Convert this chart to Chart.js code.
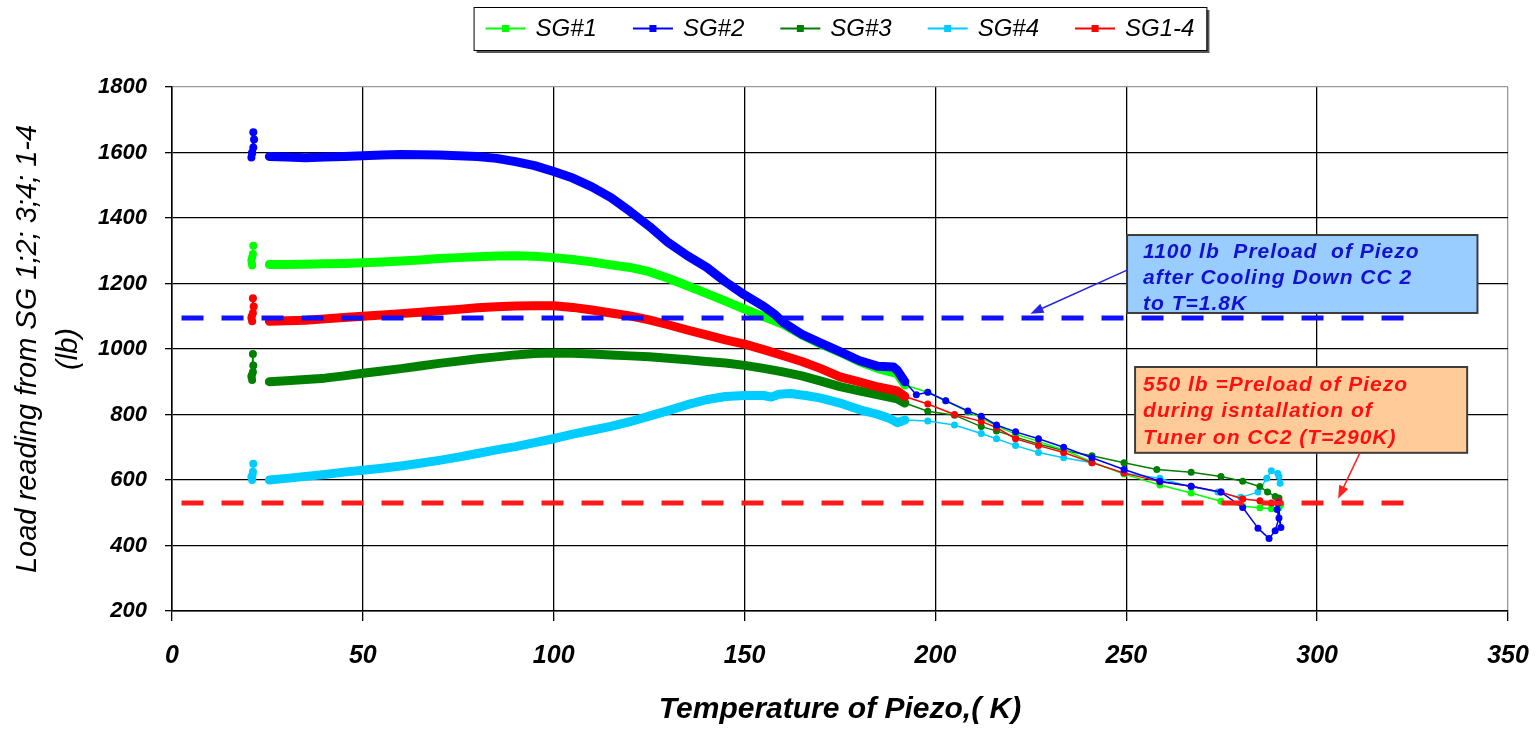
<!DOCTYPE html>
<html>
<head>
<meta charset="utf-8">
<title>Load reading vs Temperature of Piezo</title>
<script src="https://cdn.jsdelivr.net/npm/chart.js@4.4.1/dist/chart.umd.min.js"></script>
<style>
  html, body { margin: 0; padding: 0; background: #fff; }
  #wrap { width: 1540px; height: 729px; }
</style>
</head>
<body>
<div id="wrap"><canvas id="canvas" width="1540" height="729"></canvas></div>
<script>
// temperatures (K) and loads (lb), one pair of arrays per gauge
const sg1Temp = [21, 20.8, 21.2, 21.3, 21, 20.9, 25.5, 30, 35, 40, 45, 50, 55, 60, 65, 70, 75, 80, 85, 90, 95, 100, 105, 110, 115, 120, 125, 130, 135, 140, 145, 150, 155, 160, 165, 170, 175, 180, 185, 190, 192, 198, 202.7, 208.5, 212, 216, 221, 227, 233.6, 241, 249.4, 258.8, 267, 274.8, 280.5, 285, 288, 290, 290.5];
const sg1Load = [1255, 1270, 1290, 1315, 1280, 1262, 1258, 1258, 1259, 1260, 1261, 1263, 1266, 1269, 1272, 1276, 1279, 1282, 1284, 1285, 1283, 1279, 1273, 1266, 1257, 1249, 1236, 1216, 1193, 1170, 1146, 1122, 1099, 1076, 1043, 1015, 990, 962, 940, 925, 890, 868, 842, 808, 790, 765, 740, 718, 692, 655, 618, 585, 560, 535, 520, 515, 512, 515, 525];

const sg2Temp = [21, 20.8, 21.3, 21.5, 21.3, 21, 25.5, 30, 35, 40, 45, 50, 55, 60, 65, 70, 75, 80, 85, 90, 95, 100, 105, 110, 115, 120, 125, 130, 135, 140, 145, 150, 155, 158, 160, 165, 170, 175, 180, 185, 189, 190, 192, 195, 198, 202.7, 208.5, 212, 216, 221, 227, 233.6, 241, 249.4, 258.8, 267, 274.8, 280.5, 284.5, 287.4, 289, 290, 289.5, 290.5, 289.8];
const sg2Load = [1600, 1585, 1615, 1640, 1662, 1598, 1588, 1586, 1584, 1586, 1588, 1590, 1592, 1594, 1593, 1592, 1590, 1588, 1582, 1572, 1560, 1542, 1522, 1495, 1462, 1420, 1375, 1325, 1285, 1250, 1205, 1165, 1130, 1105, 1082, 1045, 1018, 992, 965, 947, 945, 935, 900, 860, 868, 842, 811, 795, 768, 747, 726, 700, 668, 632, 596, 581, 563, 516, 453, 421, 445, 484, 510, 455, 530];

const sg3Temp = [21, 20.8, 21.2, 21.3, 21.2, 20.9, 25.5, 30, 35, 40, 45, 50, 55, 60, 65, 70, 75, 80, 85, 90, 95, 100, 105, 110, 115, 120, 125, 130, 135, 140, 145, 150, 155, 160, 165, 170, 175, 180, 185, 190, 192, 198, 205, 212, 216, 221, 227, 233.6, 241, 249.4, 258, 267, 274.8, 280.5, 285, 287, 289, 290];
const sg3Load = [905, 915, 930, 950, 985, 920, 900, 903, 907, 911, 918, 926, 933, 940, 948, 956, 963, 970, 976, 982, 986, 988, 987, 985, 982, 979, 976, 972, 967, 962, 957, 950, 941, 930, 918, 902, 885, 872, 860, 848, 835, 810, 798, 763, 750, 731, 710, 690, 674, 653, 632, 624, 611, 596, 580, 563, 550, 545];

const sg4Temp = [21, 20.8, 21.2, 21.3, 21.1, 20.9, 25.5, 30, 35, 40, 45, 50, 55, 60, 65, 70, 75, 80, 85, 90, 95, 100, 105, 110, 115, 120, 125, 130, 135, 140, 145, 150, 155, 157, 159, 162, 166, 170, 175, 180, 185, 188, 190, 192, 198, 205, 212, 216, 221, 227, 233.6, 241, 249.4, 258.8, 267, 274, 280, 284.5, 286.8, 288, 289.7, 290, 290.3];
const sg4Load = [600, 610, 625, 650, 615, 605, 600, 605, 611, 617, 624, 630, 636, 643, 651, 660, 670, 681, 692, 702, 714, 726, 740, 752, 764, 778, 795, 812, 830, 845, 855, 858, 858, 853, 862, 864, 858, 850, 835, 815, 800, 788, 775, 783, 780, 768, 742, 726, 705, 684, 668, 653, 621, 605, 579, 563, 547, 563, 605, 628, 620, 611, 590, 563];

const sg14Temp = [21, 20.8, 21.2, 21.4, 21.2, 20.9, 25.5, 30, 35, 40, 45, 50, 55, 60, 65, 70, 75, 80, 85, 90, 95, 100, 105, 110, 115, 120, 125, 130, 135, 140, 145, 150, 155, 160, 165, 170, 175, 180, 185, 190, 192, 198, 205, 212, 216, 221, 227, 233.6, 241, 249.4, 258.8, 267, 274.8, 280.5, 285, 288, 289.7, 290];
const sg14Load = [1085, 1095, 1110, 1130, 1155, 1100, 1085, 1086, 1088, 1092, 1096, 1100, 1104, 1108, 1112, 1117, 1121, 1126, 1129, 1131, 1132, 1132, 1127, 1119, 1110, 1101, 1089, 1074, 1058, 1043, 1028, 1015, 998, 980, 962, 940, 915, 900, 884, 872, 855, 832, 800, 779, 760, 726, 705, 684, 653, 621, 595, 581, 563, 542, 537, 530, 531, 535];

// preload reference levels (lb) and the temperature span the dashed lines cover
const preloadCold = 1095;
const preloadWarm = 530;
const preloadSpan = [2.5, 327];

const seriesNames = ['SG#1', 'SG#2', 'SG#3', 'SG#4', 'SG1-4'];
const seriesColors = ['#00ff00', '#0000ff', '#008000', '#00ccff', '#ff0000'];

// dense logging between ~24 K and ~193 K shows up as a solid band
const DENSE_FROM = 24;
const DENSE_TO = 193;
const FONT = '"Liberation Sans", Arial, sans-serif';

function toPoints(temps, loads) {
  return temps.map((t, i) => ({ x: t, y: loads[i] }));
}

function gaugeSet(idx, temps, loads, order) {
  const color = seriesColors[idx];
  return {
    label: seriesNames[idx],
    data: toPoints(temps, loads),
    showLine: true,
    order: order,
    borderColor: color,
    backgroundColor: color,
    pointBackgroundColor: color,
    pointBorderWidth: 0,
    pointRadius: ctx => {
      const v = ctx.raw;
      if (!v) return 0;
      if (v.x < DENSE_FROM) return 4;
      return v.x <= DENSE_TO ? 0 : 3.5;
    },
    borderJoinStyle: 'round',
    borderCapStyle: 'round',
    segment: {
      borderWidth: ctx => (ctx.p0.parsed.x >= DENSE_FROM && ctx.p1.parsed.x <= DENSE_TO) ? 9 : 1.5,
      borderColor: ctx => (ctx.p0.parsed.x < DENSE_FROM && ctx.p1.parsed.x >= DENSE_FROM) ? 'rgba(0,0,0,0)' : color
    }
  };
}

function refLine(level, color) {
  return {
    label: '',
    isRef: true,
    data: preloadSpan.map(t => ({ x: t, y: level })),
    showLine: true,
    order: -1,
    borderColor: color,
    borderWidth: 5,
    borderDash: [22, 18],
    borderCapStyle: 'butt',
    pointRadius: 0
  };
}

const notes = [
  {
    lines: ['1100 lb  Preload  of Piezo', 'after Cooling Down CC 2', 'to T=1.8K'],
    color: '#1212d0', fill: '#99ccff',
    box: [250.2, 1348, 342, 1110], padX: 16, firstLine: 17, lineGap: 26,
    arrow: [250.2, 1241, 224.9, 1108], arrowColor: '#2424e6'
  },
  {
    lines: ['550 lb =Preload of Piezo', 'during isntallation of', 'Tuner on CC2 (T=290K)'],
    color: '#ff1010', fill: '#ffcc99',
    box: [252.3, 945, 339.3, 683], padX: 8, firstLine: 18, lineGap: 26.5,
    arrow: [311.2, 683, 305.5, 543], arrowColor: '#ff2020'
  }
];

const notesPlugin = {
  id: 'notes',
  afterDatasetsDraw(chart) {
    const { ctx, scales: { x, y } } = chart;
    notes.forEach(n => {
      const l = x.getPixelForValue(n.box[0]), r = x.getPixelForValue(n.box[2]);
      const t = y.getPixelForValue(n.box[1]), b = y.getPixelForValue(n.box[3]);
      ctx.save();
      ctx.fillStyle = n.fill;
      ctx.fillRect(l, t, r - l, b - t);
      ctx.strokeStyle = '#3c3c3c';
      ctx.lineWidth = 2;
      ctx.strokeRect(l, t, r - l, b - t);
      ctx.fillStyle = n.color;
      ctx.font = 'italic bold 21px ' + FONT;
      ctx.letterSpacing = '1px';
      ctx.textBaseline = 'middle';
      n.lines.forEach((s, i) => ctx.fillText(s, l + n.padX, t + n.firstLine + i * n.lineGap));
      ctx.letterSpacing = '0px';

      // arrow from box edge to its reference line
      const x0 = x.getPixelForValue(n.arrow[0]), y0 = y.getPixelForValue(n.arrow[1]);
      const x1 = x.getPixelForValue(n.arrow[2]), y1 = y.getPixelForValue(n.arrow[3]);
      const ang = Math.atan2(y1 - y0, x1 - x0);
      ctx.strokeStyle = n.arrowColor;
      ctx.fillStyle = n.arrowColor;
      ctx.lineWidth = 1.5;
      ctx.beginPath();
      ctx.moveTo(x0, y0);
      ctx.lineTo(x1 - 10 * Math.cos(ang), y1 - 10 * Math.sin(ang));
      ctx.stroke();
      ctx.beginPath();
      ctx.moveTo(x1, y1);
      ctx.lineTo(x1 - 13 * Math.cos(ang) + 5 * Math.sin(ang), y1 - 13 * Math.sin(ang) - 5 * Math.cos(ang));
      ctx.lineTo(x1 - 13 * Math.cos(ang) - 5 * Math.sin(ang), y1 - 13 * Math.sin(ang) + 5 * Math.cos(ang));
      ctx.closePath();
      ctx.fill();
      ctx.restore();
    });
  }
};

// boxed legend above the plot, items in series order
const legendPlugin = {
  id: 'boxLegend',
  afterDraw(chart) {
    const { ctx, chartArea } = chart;
    const items = chart.data.datasets.filter(d => !d.isRef);
    ctx.save();
    ctx.font = 'italic 24px ' + FONT;
    const symW = 40, symGap = 10, itemGap = 36, pad = 12;
    const widths = items.map(d => ctx.measureText(d.label).width);
    const total = widths.reduce((a, w) => a + w + symW + symGap, 0) + itemGap * (items.length - 1);
    const cx = (chartArea.left + chartArea.right) / 2;
    const left = cx - total / 2 - pad, top = 7, h = 43;
    ctx.fillStyle = '#555';
    ctx.fillRect(left + 3, top + 3, total + 2 * pad, h);
    ctx.fillStyle = '#fff';
    ctx.fillRect(left, top, total + 2 * pad, h);
    ctx.strokeStyle = '#000';
    ctx.lineWidth = 1;
    ctx.strokeRect(left + 0.5, top + 0.5, total + 2 * pad, h);
    let xp = left + pad;
    const ym = top + h / 2;
    items.forEach((d, i) => {
      ctx.strokeStyle = d.borderColor;
      ctx.lineWidth = 2;
      ctx.beginPath();
      ctx.moveTo(xp, ym);
      ctx.lineTo(xp + symW, ym);
      ctx.stroke();
      ctx.fillStyle = d.borderColor;
      ctx.fillRect(xp + symW / 2 - 3.5, ym - 3.5, 7, 7);
      ctx.fillStyle = '#000';
      ctx.textBaseline = 'middle';
      ctx.fillText(d.label, xp + symW + symGap, ym + 1);
      xp += symW + symGap + widths[i] + itemGap;
    });
    ctx.restore();
  }
};

const chart = new Chart(document.getElementById('canvas').getContext('2d'), {
  type: 'scatter',
  data: {
    datasets: [
      gaugeSet(0, sg1Temp, sg1Load, 2),
      gaugeSet(1, sg2Temp, sg2Load, 0),
      gaugeSet(2, sg3Temp, sg3Load, 3),
      gaugeSet(3, sg4Temp, sg4Load, 4),
      gaugeSet(4, sg14Temp, sg14Load, 1),
      refLine(preloadCold, '#1010ff'),
      refLine(preloadWarm, '#ff1a1a')
    ]
  },
  options: {
    responsive: false,
    animation: false,
    events: [],
    layout: { padding: { top: 87, right: 32, bottom: 0, left: 0 } },
    plugins: {
      legend: { display: false },
      tooltip: { enabled: false }
    },
    scales: {
      x: {
        type: 'linear',
        min: 0,
        max: 350,
        afterFit: scale => {
          scale.height = 118;
          scale.paddingLeft = 0;
          scale.paddingRight = 0;
        },
        ticks: {
          stepSize: 50,
          padding: 20,
          color: '#000',
          font: { family: FONT, size: 25, style: 'italic', weight: 'bold' }
        },
        grid: {
          color: ctx => (ctx.tick && ctx.tick.value === 350) ? '#9a9a9a' : '#000',
          lineWidth: 1.3,
          tickLength: 10,
          tickColor: '#000'
        },
        border: { color: '#000', width: 1.5 },
        title: {
          display: true,
          text: 'Temperature of Piezo,( K)',
          color: '#000',
          padding: { top: 0, bottom: 1 },
          font: { family: FONT, size: 30, style: 'italic', weight: 'bold' }
        }
      },
      y: {
        min: 200,
        max: 1800,
        afterFit: scale => { scale.width = 172; },
        ticks: {
          stepSize: 200,
          padding: 18,
          color: '#000',
          callback: v => String(v),
          font: { family: FONT, size: 22, style: 'italic', weight: 'bold' }
        },
        grid: {
          color: ctx => (ctx.tick && ctx.tick.value === 1800) ? '#9a9a9a' : '#000',
          lineWidth: 1.3,
          tickLength: 7,
          tickColor: '#000'
        },
        border: { color: '#000', width: 1.5 },
        title: {
          display: true,
          text: ['Load reading from SG 1;2; 3;4; 1-4', '(lb)'],
          color: '#000',
          padding: { top: 7, bottom: 0 },
          font: { family: FONT, size: 29, style: 'italic', lineHeight: 1.42 }
        }
      }
    }
  },
  plugins: [notesPlugin, legendPlugin]
});
</script>
</body>
</html>
